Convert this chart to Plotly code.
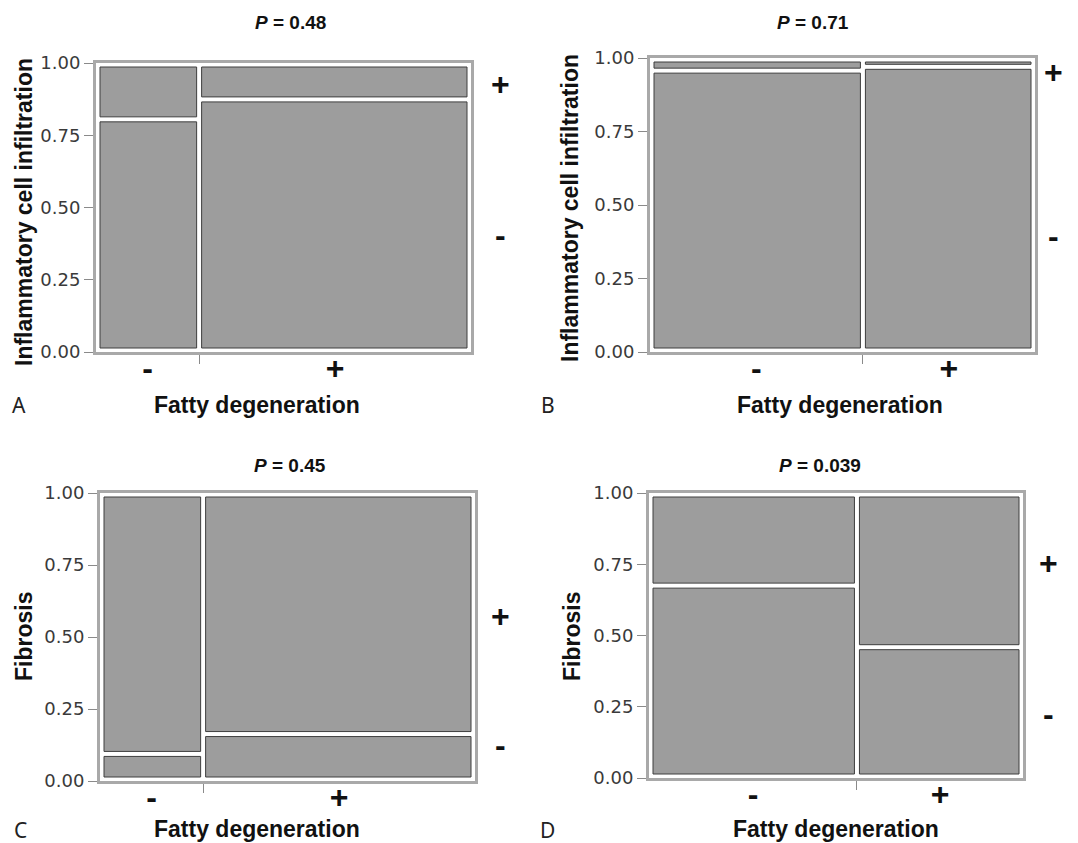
import plotly.graph_objects as go

# ---------------- data ----------------
panel_letters = ["A", "B", "C", "D"]
p_values = ["0.48", "0.71", "0.45", "0.039"]
y_titles = ["Inflammatory cell infiltration", "Inflammatory cell infiltration", "Fibrosis", "Fibrosis"]
x_title = "Fatty degeneration"
col_labels = ["-", "+"]          # Fatty degeneration levels (x)
row_labels = ["-", "+"]          # outcome levels (bottom, top)
# share of the "-" fatty-degeneration column (column width)
fatty_neg_share = [0.275, 0.553, 0.275, 0.556]
# share of outcome "-" within each column
outcome_neg_in_fatty_neg = [0.805, 0.957, 0.094, 0.675]
outcome_neg_in_fatty_pos = [0.874, 0.970, 0.163, 0.459]
# right-hand level label positions (y)
right_pos_plus = [0.925, 0.95, 0.57, 0.75]
right_pos_minus = [0.40, 0.39, 0.12, 0.22]
y_tick_vals = [0, 0.25, 0.5, 0.75, 1.0]
y_tick_text = ["0.00", "0.25", "0.50", "0.75", "1.00"]

# ---------------- layout geometry (pixels) ----------------
W, H = 1078, 843
# x0, x1, ytop, ybottom of each plot area
boxes = [(96, 471, 63, 352), (650, 1035, 58, 352), (100, 475, 493, 781), (649, 1023, 493, 778)]
title_pos = [(290, 22), (813, 22), (290, 465), (820, 465)]
ytitle_pos = [(24, 212), (570, 208), (24, 637), (572, 637)]
xtitle_pos = [(257, 405), (840, 405), (257, 829), (836, 829)]
letter_pos = [(19, 405), (548, 405), (20, 830), (547, 830)]
right_x = [500, 1053, 500, 1048]

FILL = "#9d9d9d"
EDGE = "#3e3e3e"
FRAME = "#a9a9a9"
EDGE_INSET = 4.0   # px between frame and cells
HALF_GAP = 2.5     # px half gap between cells

fig = go.Figure()
annotations = []

for i in range(4):
    x0p, x1p, ytp, ybp = boxes[i]
    wpx, hpx = x1p - x0p, ybp - ytp
    ax = "" if i == 0 else str(i + 1)
    xref, yref = "x" + ax, "y" + ax
    w = fatty_neg_share[i]
    cols = [(0.0, w, outcome_neg_in_fatty_neg[i]), (w, 1.0, outcome_neg_in_fatty_pos[i])]
    for (cx0, cx1, split) in cols:
        for (ry0, ry1) in [(0.0, split), (split, 1.0)]:
            lx = cx0 + (EDGE_INSET if cx0 == 0 else HALF_GAP) / wpx
            rx = cx1 - (EDGE_INSET if cx1 == 1 else HALF_GAP) / wpx
            by = ry0 + (EDGE_INSET if ry0 == 0 else HALF_GAP) / hpx
            ty = ry1 - (EDGE_INSET if ry1 == 1 else HALF_GAP) / hpx
            fig.add_trace(go.Bar(
                x=[(lx + rx) / 2], y=[ty - by], base=[by], width=[rx - lx],
                xaxis=xref, yaxis=yref,
                marker=dict(color=FILL, line=dict(color=EDGE, width=1)),
                showlegend=False, hoverinfo="skip"))

    dom_x = [x0p / W, x1p / W]
    dom_y = [1 - ybp / H, 1 - ytp / H]
    xa = dict(domain=dom_x, range=[0, 1], anchor=yref, automargin=False,
              showline=True, mirror=True, linecolor=FRAME, linewidth=3,
              showgrid=False, zeroline=False,
              tickmode="array", tickvals=[w / 2, (1 + w) / 2], ticktext=col_labels,
              ticks="", ticklabelstandoff=-14,
              tickfont=dict(family="Liberation Sans", size=32, color="#111", weight="bold"),
              minor=dict(tickmode="array", tickvals=[w], ticks="outside", ticklen=9,
                         tickcolor="#8a8a8a", tickwidth=1, showgrid=False),
              fixedrange=True)
    ya = dict(domain=dom_y, range=[0, 1], anchor=xref, automargin=False,
              showline=True, mirror=True, linecolor=FRAME, linewidth=3,
              showgrid=False, zeroline=False,
              tickmode="array", tickvals=y_tick_vals, ticktext=y_tick_text,
              ticks="outside", ticklen=9, tickcolor="#8a8a8a", tickwidth=1,
              tickfont=dict(family="DejaVu Sans", size=18, color="#3a3a3a"),
              fixedrange=True)
    fig.layout["xaxis" + ax] = xa
    fig.layout["yaxis" + ax] = ya

    # title
    tx, ty_ = title_pos[i]
    annotations.append(dict(x=tx / W, y=1 - ty_ / H, xref="paper", yref="paper",
                            text="<b><i>P</i> = " + p_values[i] + "</b>", showarrow=False,
                            font=dict(family="Liberation Sans", size=19, color="#111"),
                            xanchor="center", yanchor="middle"))
    # y title
    yx, yy = ytitle_pos[i]
    annotations.append(dict(x=yx / W, y=1 - yy / H, xref="paper", yref="paper",
                            text="<b>" + y_titles[i] + "</b>", showarrow=False, textangle=-90,
                            font=dict(family="Liberation Sans", size=23, color="#111"),
                            xanchor="center", yanchor="middle"))
    # x title
    xx, xy = xtitle_pos[i]
    annotations.append(dict(x=xx / W, y=1 - xy / H, xref="paper", yref="paper",
                            text="<b>" + x_title + "</b>", showarrow=False,
                            font=dict(family="Liberation Sans", size=23, color="#111"),
                            xanchor="center", yanchor="middle"))
    # panel letter
    lx_, ly_ = letter_pos[i]
    annotations.append(dict(x=lx_ / W, y=1 - ly_ / H, xref="paper", yref="paper",
                            text=panel_letters[i], showarrow=False,
                            font=dict(family="Noto Sans", size=21, color="#222"),
                            xanchor="center", yanchor="middle"))
    # right-hand outcome labels
    for lab, pos in [(row_labels[1], right_pos_plus[i]), (row_labels[0], right_pos_minus[i])]:
        annotations.append(dict(x=right_x[i] / W, y=pos, xref="paper", yref=yref,
                                text="<b>" + lab + "</b>", showarrow=False, yshift=1,
                                font=dict(family="Liberation Sans", size=32, color="#111"),
                                xanchor="center", yanchor="middle"))

fig.update_layout(width=W, height=H, margin=dict(l=0, r=0, t=0, b=0, pad=0, autoexpand=False),
                  paper_bgcolor="white", plot_bgcolor="white", autosize=False,
                  barmode="overlay", annotations=annotations, showlegend=False)

fig.write_html("out.html", config={"displayModeBar": False})
